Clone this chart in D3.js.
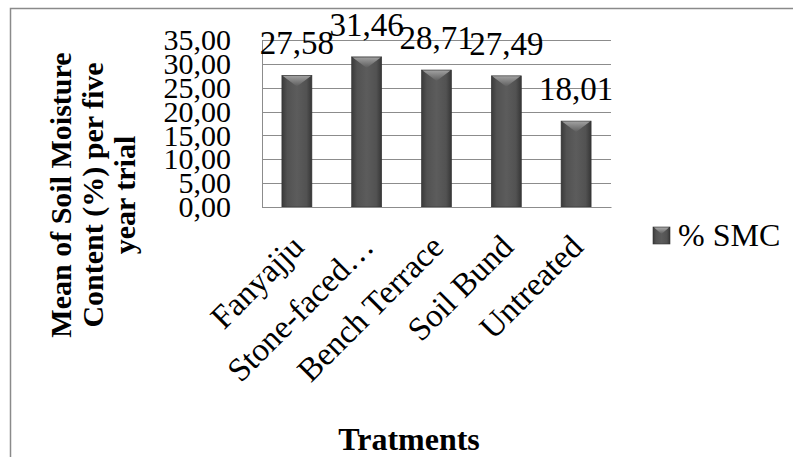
<!DOCTYPE html>
<html>
<head>
<meta charset="utf-8">
<script src="https://cdn.jsdelivr.net/npm/d3@7"></script>
<style>
  html, body { margin: 0; padding: 0; background: #fff; }
  svg { display: block; }
  text { font-family: "Liberation Serif", "Times New Roman", serif; fill: #000; }
</style>
</head>
<body>
<div id="chart"></div>
<script>
// Mean soil moisture content per treatment (five-year trial)
const categories = ["Fanyajju", "Stone-faced…", "Bench Terrace", "Soil Bund", "Untreated"];
const smcValues = [27.58, 31.46, 28.71, 27.49, 18.01];
const yTicks = [0, 5, 10, 15, 20, 25, 30, 35];
const seriesName = "% SMC";
const yTitleLines = ["Mean of Soil Moisture", "Content (%) per five", "year trial"];
const xTitle = "Tratments";

const W = 793, H = 457;
const plot = { left: 262, right: 611, top: 40, bottom: 207 };

const fmt = v => v.toFixed(2).replace(".", ",");

const svg = d3.select("#chart").append("svg")
  .attr("width", W).attr("height", H);

const defs = svg.append("defs");
// Horizontal shading across each column
const gBody = defs.append("linearGradient").attr("id", "barBody")
  .attr("x1", "0").attr("x2", "1").attr("y1", "0").attr("y2", "0");
gBody.append("stop").attr("offset", "0").attr("stop-color", "#3a3a3a");
gBody.append("stop").attr("offset", "0.18").attr("stop-color", "#525252");
gBody.append("stop").attr("offset", "0.5").attr("stop-color", "#5c5c5c");
gBody.append("stop").attr("offset", "0.82").attr("stop-color", "#525252");
gBody.append("stop").attr("offset", "1").attr("stop-color", "#363636");
// Bevel highlight at the column top
const gCap = defs.append("linearGradient").attr("id", "barCap")
  .attr("x1", "0").attr("x2", "0").attr("y1", "0").attr("y2", "1");
gCap.append("stop").attr("offset", "0").attr("stop-color", "#a8a8a8");
gCap.append("stop").attr("offset", "1").attr("stop-color", "#5c5c5c");

// Chart frame
svg.append("rect")
  .attr("x", 10.5).attr("y", 8.5).attr("width", W + 20).attr("height", H + 20)
  .attr("fill", "none").attr("stroke", "#8a8a8a").attr("stroke-width", 1.5);

const x = d3.scaleBand().domain(categories)
  .range([plot.left, plot.right]).paddingInner(0.57).paddingOuter(0.285);
const y = d3.scaleLinear().domain([0, 35]).range([plot.bottom, plot.top]);

// Gridlines
svg.append("g").selectAll("line").data(yTicks).join("line")
  .attr("x1", plot.left).attr("x2", plot.right)
  .attr("y1", d => Math.round(y(d)) + 0.5).attr("y2", d => Math.round(y(d)) + 0.5)
  .attr("stroke", "#8c8c8c").attr("stroke-width", 1);

// Value axis line
svg.append("line")
  .attr("x1", plot.left + 0.5).attr("x2", plot.left + 0.5)
  .attr("y1", plot.top).attr("y2", plot.bottom)
  .attr("stroke", "#8c8c8c").attr("stroke-width", 1);

// Y tick labels
const yAxis = d3.axisLeft(y).tickValues(yTicks).tickFormat(fmt).tickSize(0).tickPadding(0);
const yg = svg.append("g").attr("transform", `translate(${plot.left - 31},0)`).call(yAxis);
yg.select(".domain").remove();
yg.selectAll("text")
  .attr("font-family", "Liberation Serif, Times New Roman, serif")
  .attr("font-size", 30).attr("fill", "#000").attr("dy", "0.32em");

// Columns
const bars = svg.append("g").selectAll("g").data(smcValues).join("g");
bars.append("rect")
  .attr("x", (d, i) => x(categories[i]))
  .attr("y", d => y(d))
  .attr("width", x.bandwidth())
  .attr("height", d => y(0) - y(d))
  .attr("fill", "url(#barBody)")
  .attr("stroke", "#333").attr("stroke-width", 0.6);
bars.append("path")
  .attr("d", (d, i) => {
    const x0 = x(categories[i]), w = x.bandwidth(), t = y(d);
    return `M${x0 + 1},${t + 0.5} L${x0 + w - 1},${t + 0.5} L${x0 + w / 2},${t + 11} Z`;
  })
  .attr("fill", "url(#barCap)").attr("opacity", 0.9);

// Data labels
svg.append("g").selectAll("text").data(smcValues).join("text")
  .attr("x", (d, i) => x(categories[i]) + x.bandwidth() / 2)
  .attr("y", d => y(d) - 21)
  .attr("text-anchor", "middle")
  .attr("font-size", 33)
  .text(fmt);

// Category labels, rotated
const xAxis = d3.axisBottom(x).tickSize(0).tickPadding(0);
const xg = svg.append("g").attr("transform", `translate(0,${plot.bottom})`).call(xAxis);
xg.select(".domain").attr("stroke", "#8c8c8c");
xg.selectAll("text")
  .attr("font-family", "Liberation Serif, Times New Roman, serif")
  .attr("font-size", 33).attr("fill", "#000")
  .attr("text-anchor", "end")
  .attr("dy", null).attr("y", 0)
  .attr("transform", "translate(1,34) rotate(-45)")
  .attr("dominant-baseline", "central");

// Axis titles
const yt = svg.append("text")
  .attr("transform", "translate(0,195) rotate(-90)")
  .attr("text-anchor", "middle")
  .attr("font-size", 30).attr("font-weight", "bold");
yt.selectAll("tspan").data(yTitleLines).join("tspan")
  .attr("x", 0).attr("y", (d, i) => 71 + i * 32)
  .text(d => d);

svg.append("text")
  .attr("x", 409).attr("y", 450)
  .attr("text-anchor", "middle")
  .attr("font-size", 32).attr("font-weight", "bold")
  .text(xTitle);

// Legend
const lg = svg.append("g").attr("transform", "translate(653,227)");
lg.append("rect").attr("width", 17).attr("height", 17)
  .attr("fill", "url(#barBody)").attr("stroke", "#333").attr("stroke-width", 0.6);
lg.append("path").attr("d", "M1,0.5 L16,0.5 L8.5,7 Z").attr("fill", "url(#barCap)");
lg.append("text").attr("x", 25).attr("y", 19)
  .attr("font-size", 32).text(seriesName);
</script>
</body>
</html>
